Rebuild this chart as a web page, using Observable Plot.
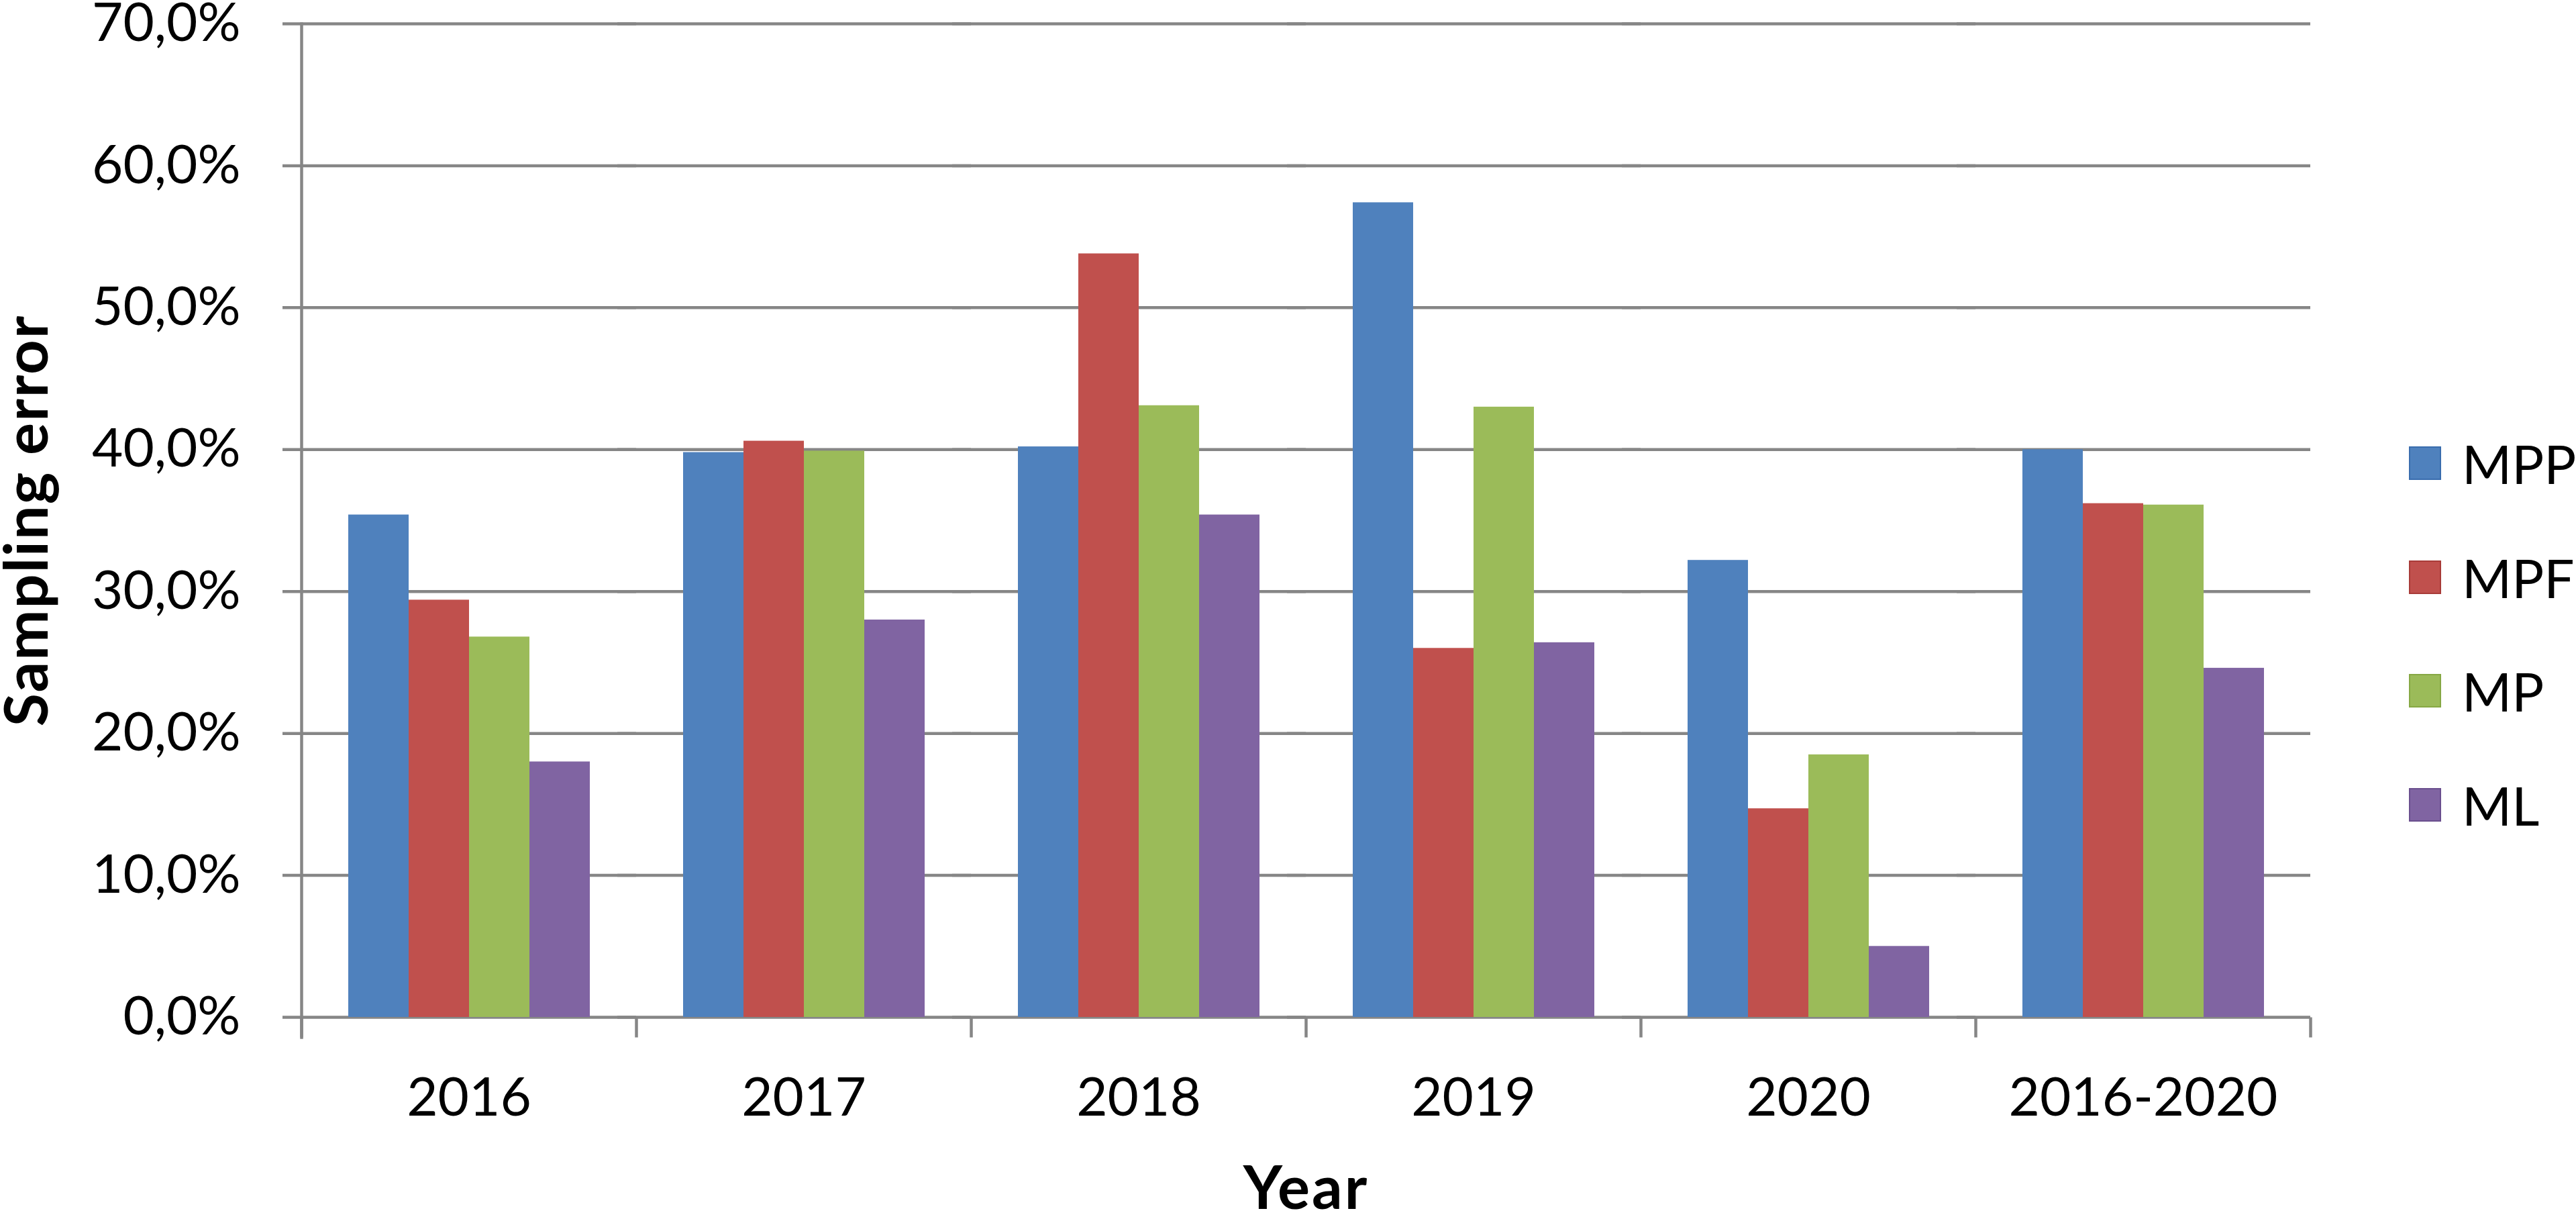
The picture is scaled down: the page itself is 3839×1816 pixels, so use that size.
<!DOCTYPE html>
<html>
<head>
<meta charset="utf-8">
<script src="https://cdn.jsdelivr.net/npm/d3@7"></script>
<script src="https://cdn.jsdelivr.net/npm/@observablehq/plot@0.6"></script>
<style>
  html, body { margin: 0; padding: 0; background: #fff; }
  #wrap { position: relative; width: 3839px; height: 1816px; overflow: hidden; font-family: Lato, "Open Sans", sans-serif; }
  #wrap svg { position: absolute; left: 0; top: 0; }
  #wrap g[aria-label="y-axis label"] { font-weight: 700; font-size: 90px; letter-spacing: 2px; }
  #wrap g[aria-label="fx-axis label"] { font-weight: 700; font-size: 90px; letter-spacing: 3px; }
  #legend { position: absolute; left: 3590px; top: 665px; }
  #legend .row { display: flex; align-items: center; height: 50px; margin-bottom: 119.5px; }
  #legend .sw { width: 48px; height: 50px; box-sizing: border-box; margin-right: 31px; }
  #legend .lab { font-size: 80px; line-height: 1; color: #000; white-space: nowrap; }
</style>
</head>
<body>
<div id="wrap"></div>
<script>
// ---- data ----
const years = ["2016", "2017", "2018", "2019", "2020", "2016-2020"];
const series = ["MPP", "MPF", "MP", "ML"];
const MPP = [35.4, 39.8, 40.2, 57.4, 32.2, 40.0];
const MPF = [29.4, 40.6, 53.8, 26.0, 14.7, 36.2];
const MP  = [26.8, 39.9, 43.1, 43.0, 18.5, 36.1];
const ML  = [18.0, 28.0, 35.4, 26.4, 5.0, 24.6];
const yTicks = [0, 10, 20, 30, 40, 50, 60, 70];
const colors = ["#4F81BD", "#C0504D", "#9BBB59", "#8064A2"];
const borders = ["#3A6DAE", "#A83B38", "#86A844", "#6A4F8E"];

const bySeries = {MPP, MPF, MP, ML};
const data = years.flatMap((year, i) => series.map(s => ({year, series: s, value: bySeries[s][i]})));

const gray = "#868686";
const fmt = d => d.toFixed(1).replace(".", ",") + "%";
const tickSymbol = {draw(ctx) { ctx.moveTo(0, 0); ctx.lineTo(0, 30); }};

const chart = Plot.plot({
  width: 3839,
  height: 1816,
  marginLeft: 449,
  marginRight: 396,
  marginTop: 35,
  marginBottom: 301,
  style: {fontFamily: "Lato, 'Open Sans', sans-serif", fontSize: "80px", color: "#000", background: "#fff", overflow: "visible"},
  fx: {domain: years, padding: 0},
  x: {domain: series, paddingInner: 0, paddingOuter: 0.765, axis: null},
  y: {domain: [0, 70]},
  color: {domain: series, range: colors},
  marks: [
    Plot.gridY(yTicks, {stroke: gray, strokeOpacity: 1, strokeWidth: 4.5, insetLeft: -28}),
    Plot.barY(data, {fx: "year", x: "series", y: "value", fill: "series"}),
    Plot.frame({anchor: "left", facet: "super", stroke: gray, strokeWidth: 4.5, insetBottom: -30}),
    Plot.dot(years, {fx: d => d, y: () => 0, frameAnchor: "left", symbol: tickSymbol, fill: "none", stroke: gray, strokeWidth: 4.5}),
    Plot.dot(years.slice(-1), {fx: d => d, y: () => 0, frameAnchor: "right", symbol: tickSymbol, fill: "none", stroke: gray, strokeWidth: 4.5}),
    Plot.axisY(yTicks, {tickSize: 0, tickPadding: 91, tickFormat: fmt, fill: "#000", label: "Sampling error", labelAnchor: "center", labelOffset: 442, labelArrow: "none"}),
    Plot.axisFx({anchor: "bottom", tickSize: 0, tickPadding: 90, fill: "#000", label: "Year", labelAnchor: "center", labelOffset: 285, labelArrow: "none"})
  ]
});

const wrap = document.getElementById("wrap");
wrap.appendChild(chart);

// legend
const legend = d3.select(wrap).append("div").attr("id", "legend");
const rows = legend.selectAll("div.row").data(series).join("div").attr("class", "row");
rows.append("div").attr("class", "sw")
  .style("background", (d, i) => colors[i])
  .style("border", (d, i) => `2px solid ${borders[i]}`);
rows.append("div").attr("class", "lab").text(d => d);
</script>
</body>
</html>
